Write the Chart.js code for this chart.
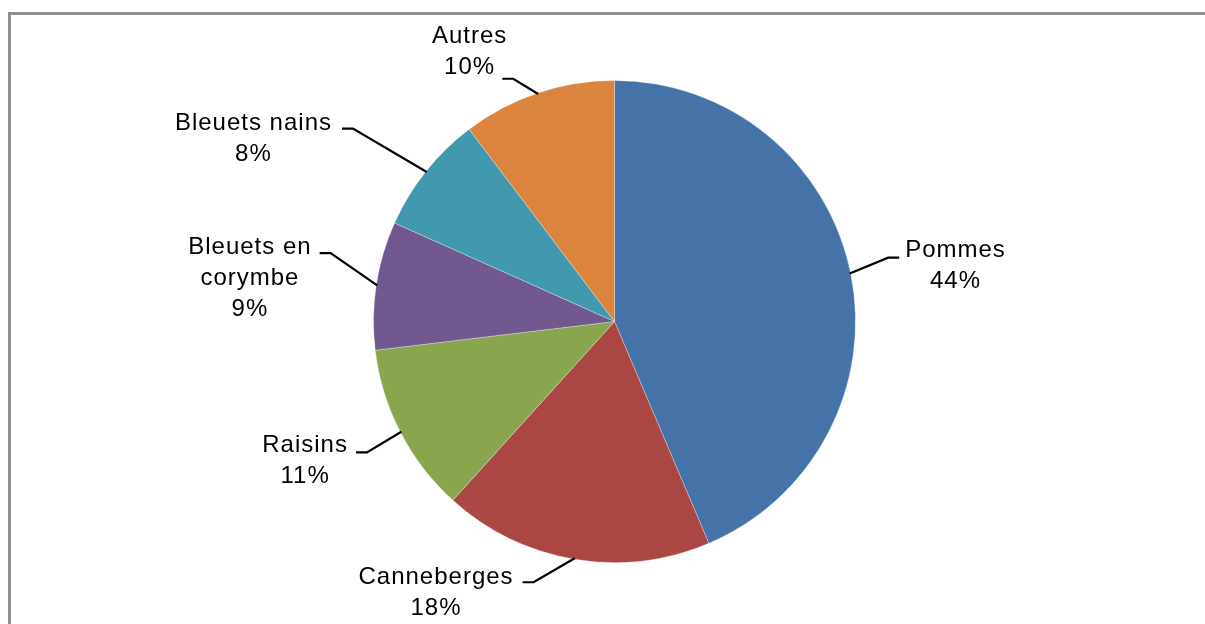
<!DOCTYPE html>
<html>
<head>
<meta charset="utf-8">
<script src="https://cdn.jsdelivr.net/npm/chart.js@4"></script>
<style>
  html, body { margin: 0; padding: 0; background: #fff; overflow: hidden; }
  #frame {
    position: absolute; left: 8px; top: 12px; width: 1300px; height: 700px;
    border-left: 3px solid #8e8e8e; border-top: 3px solid #8e8e8e;
  }
  #myChart { position: absolute; left: 0; top: 0; }
</style>
</head>
<body>
<div id="frame"></div>
<canvas id="myChart" width="1205" height="624"></canvas>
<script>
// slices, clockwise from 12 o'clock
const categories = ['Pommes', 'Canneberges', 'Raisins', 'Bleuets en corymbe', 'Bleuets nains', 'Autres']
const shares = [43.6, 18.1, 11.4, 8.6, 8.0, 10.3]
const sliceColors = ['#4572A7', '#AA4643', '#89A54E', '#71588F', '#4198AF', '#DB843D']

// leader line / label placement (excel "best fit" look)
// ext: how far past the rim the elbow sits, tweak: angle nudge (deg),
// gap: text distance from the end of the short flat segment, dy: block centre vs segment
const labelLayout = [
    { ext: 40, tweak: -1.6, gap: 6, dy: 6 },
    { ext: 32, tweak: 7.7, gap: 9, dy: 9 },
    { ext: 39, tweak: -0.5, gap: 8, dy: 6.5 },
    { ext: 51, tweak: 4.9, gap: 8, dy: 23 },
    { ext: 84, tweak: -2.1, gap: 10, dy: 8 },
    { ext: 22, tweak: -4.1, gap: -5, dy: -29 }
]
const segLen = 11
const lineH = 31
const capH = 17
const wrapWidth = 170

function wrapText(ctx, text) {
    const words = text.split(' ')
    const lines = []
    let cur = ''
    words.forEach(w => {
        const test = cur ? cur + ' ' + w : w
        if (cur && ctx.measureText(test).width > wrapWidth) {
            lines.push(cur)
            cur = w
        } else {
            cur = test
        }
    })
    if (cur) lines.push(cur)
    return lines
}

const pieLabels = {
    id: 'pieLabels',
    afterDatasetsDraw(chart) {
        const ctx = chart.ctx
        const meta = chart.getDatasetMeta(0)
        const total = shares.reduce((a, b) => a + b)
        ctx.save()
        ctx.font = '24px "Liberation Sans", Arial, sans-serif'
        ctx.letterSpacing = '1px'
        ctx.fillStyle = '#000'
        ctx.strokeStyle = '#000'
        ctx.lineWidth = 2.2
        meta.data.forEach((arc, i) => {
            const p = arc.getProps(['x', 'y', 'startAngle', 'endAngle', 'outerRadius'], true)
            const lay = labelLayout[i]
            const mid = (p.startAngle + p.endAngle) / 2
            const a2 = mid + lay.tweak * Math.PI / 180
            const sx = p.x + Math.cos(mid) * (p.outerRadius - 1)
            const sy = p.y + Math.sin(mid) * (p.outerRadius - 1)
            const ex = p.x + Math.cos(a2) * (p.outerRadius + lay.ext)
            const ey = p.y + Math.sin(a2) * (p.outerRadius + lay.ext)
            const right = Math.cos(mid) > 0
            const tx = ex + (right ? segLen : -segLen)

            ctx.beginPath()
            ctx.moveTo(sx, sy)
            ctx.lineTo(ex, ey)
            ctx.lineTo(tx, ey)
            ctx.stroke()

            const lines = wrapText(ctx, categories[i])
            lines.push(Math.round(shares[i] / total * 100) + '%')
            const w = Math.max(...lines.map(l => ctx.measureText(l).width))
            const left = right ? tx + lay.gap : tx - lay.gap - w
            const cx = left + w / 2
            const blockH = (lines.length - 1) * lineH + capH
            const firstBase = ey + lay.dy - blockH / 2 + capH
            ctx.textAlign = 'center'
            ctx.textBaseline = 'alphabetic'
            lines.forEach((l, k) => ctx.fillText(l, cx, firstBase + k * lineH))
        })
        ctx.restore()
    }
}

let myChart = document.getElementById('myChart').getContext('2d')
let pieChart = new Chart(myChart, {
    type: 'pie',
    data: {
        labels: categories,
        datasets: [{
            data: shares,
            backgroundColor: sliceColors,
            borderColor: 'rgba(255,255,255,0.3)',
            borderWidth: 1,
            hoverOffset: 0
        }]
    },
    options: {
        responsive: false,
        animation: false,
        layout: {
            padding: { left: 373, right: 349, top: 80, bottom: 61 }
        },
        plugins: {
            legend: { display: false },
            tooltip: { enabled: false }
        }
    },
    plugins: [pieLabels]
})
</script>
</body>
</html>
